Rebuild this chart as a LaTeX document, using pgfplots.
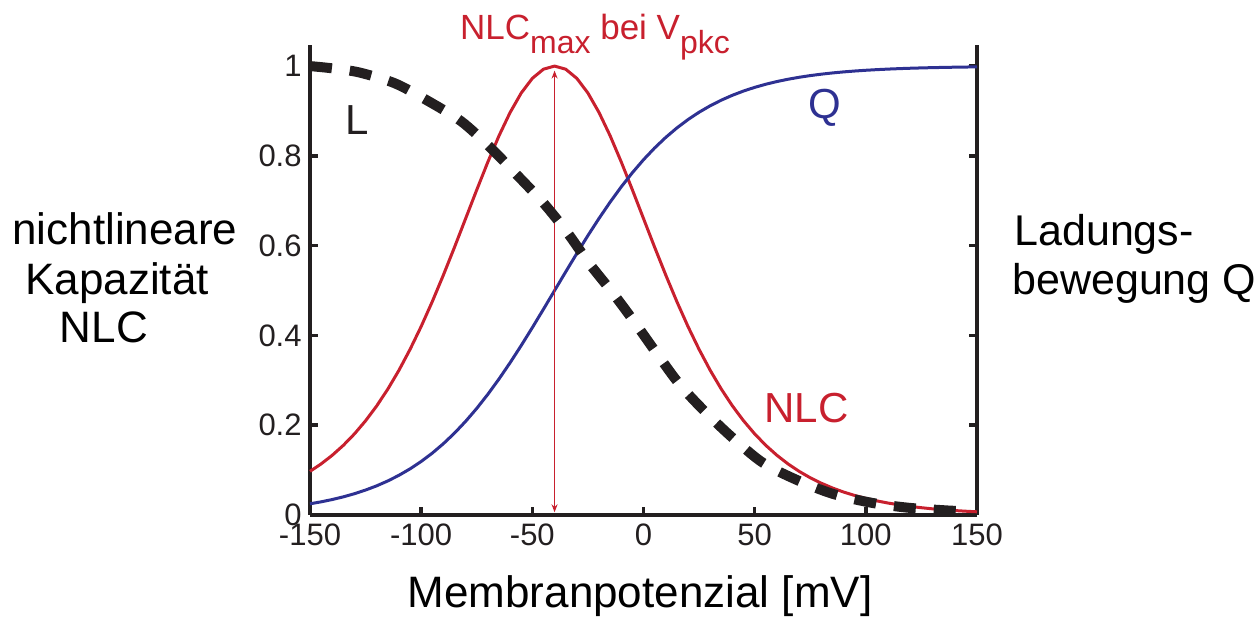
\documentclass[border=0pt]{standalone}
\usepackage{fontspec}
\setmainfont{Liberation Sans}
\usepackage{pgfplots}
\usepackage{pgfplotstable}
\pgfplotsset{compat=1.18}
\usetikzlibrary{arrows.meta}
\definecolor{nlcred}{RGB}{200,32,46}
\definecolor{qblue}{RGB}{46,49,146}
\definecolor{axblack}{RGB}{35,31,32}

\pgfplotstableread{
V Q NLC
-150 0.02493 0.0972
-145 0.02931 0.1138
-140 0.03445 0.1330
-135 0.04044 0.1552
-130 0.04743 0.1807
-125 0.05555 0.2099
-120 0.06497 0.2430
-115 0.07586 0.2804
-110 0.08840 0.3223
-105 0.10279 0.3689
-100 0.11920 0.4200
-95 0.13784 0.4754
-90 0.15888 0.5346
-85 0.18243 0.5966
-80 0.20861 0.6604
-75 0.23746 0.7243
-70 0.26894 0.7864
-65 0.30294 0.8447
-60 0.33925 0.8966
-55 0.37754 0.9400
-50 0.41743 0.9727
-45 0.45843 0.9931
-40 0.50000 1.0000
-35 0.54157 0.9931
-30 0.58257 0.9727
-25 0.62246 0.9400
-20 0.66075 0.8966
-15 0.69706 0.8447
-10 0.73106 0.7864
-5 0.76254 0.7243
0 0.79139 0.6604
5 0.81757 0.5966
10 0.84112 0.5346
15 0.86216 0.4754
20 0.88080 0.4200
25 0.89721 0.3689
30 0.91160 0.3223
35 0.92414 0.2804
40 0.93503 0.2430
45 0.94445 0.2099
50 0.95257 0.1807
55 0.95956 0.1552
60 0.96555 0.1330
65 0.97069 0.1138
70 0.97507 0.0972
75 0.97882 0.0829
80 0.98201 0.0707
85 0.98474 0.0601
90 0.98705 0.0511
95 0.98901 0.0435
100 0.99068 0.0369
105 0.99210 0.0314
110 0.99331 0.0266
115 0.99433 0.0226
120 0.99520 0.0191
125 0.99593 0.0162
130 0.99655 0.0137
135 0.99708 0.0116
140 0.99753 0.0099
145 0.99791 0.0084
150 0.99823 0.0071
}\curvetable

\pgfplotstableread{
V L
-150 1.000
-140 0.995
-128 0.986
-112 0.962
-97.5 0.924
-82 0.877
-69 0.819
-57 0.758
-45 0.695
-34.4 0.630
-24.5 0.561
-13.7 0.494
-3.8 0.428
6.1 0.359
16.4 0.290
28.1 0.228
40.5 0.170
53.8 0.116
69 0.078
85.2 0.047
102.8 0.027
119.4 0.016
137 0.010
142 0.009
}\ltable

\begin{document}
\begin{tikzpicture}
\useasboundingbox (-155pt,-52pt) rectangle (474pt,257.5pt);
\begin{axis}[
  at={(0pt,0pt)}, anchor=south west,
  scale only axis, width=333.5pt, height=235pt,
  xmin=-150, xmax=150, ymin=0, ymax=1.047,
  axis x line*=bottom, axis y line*=box,
  axis line style={line width=2pt, color=axblack},
  clip=false,
  xtick={-150,-100,-50,0,50,100,150},
  xticklabels={-150,-100,-50,0,50,100,150},
  ytick={0,0.2,0.4,0.6,0.8,1},
  yticklabels={0,0.2,0.4,0.6,0.8,1},
  tick align=inside,
  major tick length=4pt,
  tick style={line width=1.8pt, color=axblack},
  ticklabel style={font=\fontsize{15.5}{15.5}\selectfont, text=axblack, inner sep=0pt},
  yticklabel style={xshift=-4pt},
  xticklabel style={yshift=-4pt},
]
\addplot[nlcred, line width=1.5pt] table[x=V,y=NLC]{\curvetable};
\addplot[qblue, line width=1.5pt] table[x=V,y=Q]{\curvetable};
\addplot[nlcred, line width=0.7pt, {Stealth[length=4pt,width=3pt]}-{Stealth[length=4pt,width=3pt]}] coordinates {(-40,0.006) (-40,0.99)};
\addplot[axblack, line width=5pt, dash pattern=on 11pt off 9pt, smooth] table[x=V,y=L]{\ltable};
\node[text=nlcred, font=\fontsize{21}{21}\selectfont] at (axis cs:73.3,0.238) {NLC};
\node[text=axblack, font=\fontsize{21}{21}\selectfont] at (axis cs:-128.6,0.88) {L};
\node[text=qblue, font=\fontsize{21}{21}\selectfont] at (axis cs:81.4,0.906) {Q};
\end{axis}
\node[anchor=base, inner sep=0pt, text=nlcred, font=\fontsize{17.5}{17.5}\selectfont] at (142.5pt,237.5pt)
  {NLC\raisebox{-7pt}{\fontsize{16}{16}\selectfont max} bei V\raisebox{-7pt}{\fontsize{16}{16}\selectfont pkc}};
\node[anchor=base, inner sep=0pt, font=\fontsize{22}{22}\selectfont] at (165pt,-46.5pt) {Membranpotenzial [mV]};
\node[anchor=base, inner sep=0pt, font=\fontsize{22}{22}\selectfont] at (-92.5pt,135pt) {nichtlineare};
\node[anchor=base, inner sep=0pt, font=\fontsize{22}{22}\selectfont] at (-96.5pt,110pt) {Kapazität};
\node[anchor=base, inner sep=0pt, font=\fontsize{22}{22}\selectfont] at (-103pt,86pt) {NLC};
\node[anchor=base west, inner sep=0pt, font=\fontsize{21.5}{21.5}\selectfont] at (352pt,134.5pt) {Ladungs-};
\node[anchor=base west, inner sep=0pt, font=\fontsize{21.5}{21.5}\selectfont] at (351pt,110pt) {bewegung Q};
\end{tikzpicture}
\end{document}
